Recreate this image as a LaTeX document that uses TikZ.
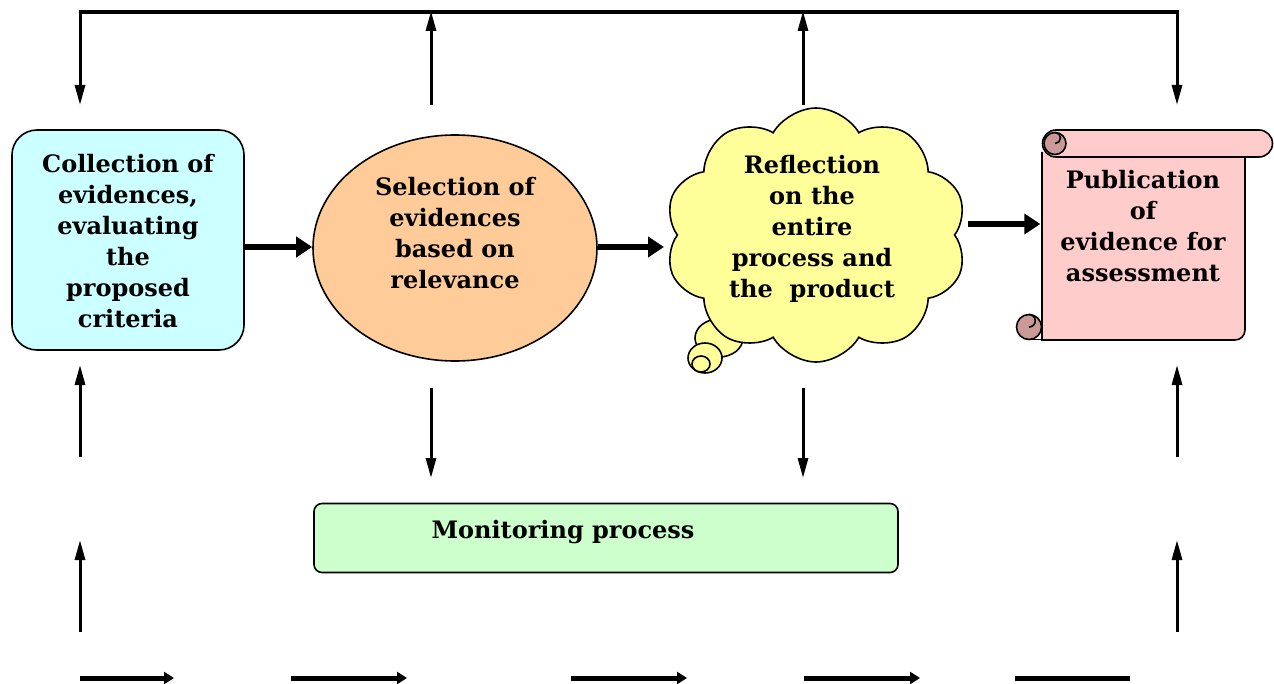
\documentclass[tikz,border=0pt]{standalone}
\usepackage{fontspec}
\setmainfont{DejaVu Serif}
\usetikzlibrary{shapes.symbols,shapes.geometric,arrows.meta}
\definecolor{cyanfill}{HTML}{CCFFFF}
\definecolor{orangefill}{HTML}{FFCC99}
\definecolor{yellowfill}{HTML}{FFFF99}
\definecolor{pinkfill}{HTML}{FFCCCC}
\definecolor{curlfill}{HTML}{CC9999}
\definecolor{greenfill}{HTML}{CCFFCC}
\begin{document}
\begin{tikzpicture}[x=1pt,y=-1pt,
  txt/.style={font=\bfseries\fontsize{24}{31}\selectfont, align=center, text=black, inner sep=0pt},
  outline/.style={draw=black, line width=1.6pt},
  busline/.style={line width=4pt},
  vline/.style={line width=3pt, -{Triangle[length=20pt,width=10pt]}},
  bigarrow/.style={line width=6pt, -{Triangle[length=16pt,width=20pt]}},
  botarrow/.style={line width=5pt, -{Triangle[length=10pt,width=12pt]}},
  botline/.style={line width=5pt}]
\useasboundingbox (0,0) rectangle (1274,684);

% shapes
\node[outline, fill=cyanfill, rounded corners=25pt, minimum width=232pt, minimum height=220pt] (coll) at (128,240) {};
\node[outline, fill=orangefill, ellipse, minimum width=284pt, minimum height=226pt, inner sep=0pt] (sel) at (455,248) {};
% thought bubble tail
\draw[outline, fill=yellowfill] (719,338) ellipse (24pt and 19pt);
\node[outline, fill=yellowfill, cloud, cloud puffs=10, cloud puff arc=120, aspect=1.2, minimum width=302pt, minimum height=254pt, inner sep=0pt] (refl) at (816,235) {};
\draw[outline, fill=yellowfill] (705,358) ellipse (17pt and 15pt);
\draw[outline, fill=yellowfill] (701,364) ellipse (9pt and 8pt);

% scroll
\draw[outline, fill=pinkfill] (1042,152) -- (1042,340) -- (1235,340) arc(90:0:10) -- (1245,150);
\draw[outline, fill=pinkfill] (1056,130) -- (1259,130) arc(-90:90:13.5) -- (1056,157) arc(90:270:13.5) -- cycle;
\draw[outline, fill=curlfill] (1055,143.5) circle (11pt);
\draw[outline] (1055,132.5) arc(-90:90:5.5);
\draw[outline, fill=curlfill] (1029,327) circle (12.5pt);
\draw[outline] (1029,314.5) arc(-90:90:6.25);
\draw[outline] (1029,339.5) -- (1042,339.5);
\node[minimum width=205pt, minimum height=190pt, inner sep=0pt] (pub) at (1143,245) {};

\node[outline, fill=greenfill, rounded corners=8pt, minimum width=584pt, minimum height=69pt] (mon) at (606,538) {};

% texts
\node[txt] (tcoll) at (128,241) {Collection of\\evidences,\\evaluating\\the\\proposed\\criteria};
\node[txt] (tsel) at (455,233) {Selection of\\evidences\\based on\\relevance};
\node[txt] (trefl) at (812,229) {Reflection\\on the\\entire\\process and\\the\ \ product};
\node[txt] (tpub) at (1143,226) {Publication\\of\\evidence for\\assessment};
\node[txt] (tmon) at (563,532) {Monitoring process};

% coordinates for bus
\coordinate (tl) at (80,12);
\coordinate (tr) at (1177,12);
\coordinate (b1) at (431,12);
\coordinate (b2) at (803,12);
\coordinate (d1) at (80,105);
\coordinate (d4) at (1177,105);
\coordinate (u1) at (431,105);
\coordinate (u2) at (803,105);

\draw[busline] ([xshift=-1.5pt]tl) -- ([xshift=1.5pt]tr);
\draw[vline] (tl) -- (d1);
\draw[vline] (tr) -- (d4);
\draw[vline] (u1) -- ([yshift=1pt]b1);
\draw[vline] (u2) -- ([yshift=1pt]b2);

% horizontal flow
\draw[bigarrow] (coll.east |- 0,247) -- (sel.west |- 0,247);
\draw[bigarrow] (sel.east |- 0,247) -- (664,247);
\draw[bigarrow] (968,224) -- (pub.west |- 0,224);

% down to monitoring
\coordinate (m1s) at (431,388);
\coordinate (m1e) at (431,478);
\coordinate (m2s) at (803,388);
\coordinate (m2e) at (803,478);
\draw[vline] (m1s) -- (m1e);
\draw[vline] (m2s) -- (m2e);

% up arrows left and right
\coordinate (l1s) at (80,457); \coordinate (l1e) at (80,365);
\coordinate (l2s) at (80,632); \coordinate (l2e) at (80,540);
\coordinate (r1s) at (1177,457); \coordinate (r1e) at (1177,365);
\coordinate (r2s) at (1177,632); \coordinate (r2e) at (1177,540);
\draw[vline] (l1s) -- (l1e);
\draw[vline] (l2s) -- (l2e);
\draw[vline] (r1s) -- (r1e);
\draw[vline] (r2s) -- (r2e);

% bottom arrows
\coordinate (a1s) at (80,678); \coordinate (a1e) at (174,678);
\coordinate (a2s) at (291,678); \coordinate (a2e) at (407,678);
\coordinate (a3s) at (571,678); \coordinate (a3e) at (687,678);
\coordinate (a4s) at (804,678); \coordinate (a4e) at (920,678);
\coordinate (a5s) at (1015,678); \coordinate (a5e) at (1130,678);
\draw[botarrow] (a1s) -- (a1e);
\draw[botarrow] (a2s) -- (a2e);
\draw[botarrow] (a3s) -- (a3e);
\draw[botarrow] (a4s) -- (a4e);
\draw[botline] (a5s) -- (a5e);
\end{tikzpicture}
\end{document}
